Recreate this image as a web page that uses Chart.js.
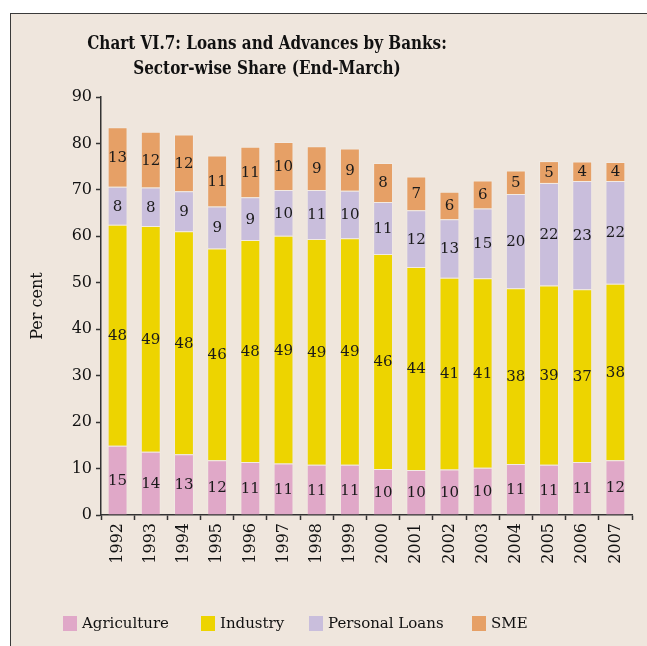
<!DOCTYPE html>
<html>
<head>
<meta charset="utf-8">
<script src="https://cdn.jsdelivr.net/npm/chart.js@4.4.0/dist/chart.umd.min.js"></script>
<style>
  html, body { margin: 0; padding: 0; background: #fff; }
  body { width: 647px; height: 646px; position: relative; overflow: hidden; }
  #frame {
    position: absolute; left: 10px; top: 13px; width: 660px; height: 660px;
    background: #EFE6DD; border-left: 1.5px solid #3a3a3a; border-top: 1.5px solid #3a3a3a;
  }
  #chart { position: absolute; left: 0; top: 0; }
  #title {
    position: absolute; left: 0; width: 534px; top: 30px; text-align: center;
    font-family: "DejaVu Serif", serif; font-weight: bold; font-size: 19px; line-height: 25px;
    color: #111; transform: scaleX(0.8); transform-origin: 267px 0;
  }
  .leg { position: absolute; top: 613px; height: 20px; font-family: "DejaVu Serif", serif;
    font-size: 15px; line-height: 20px; color: #111; white-space: nowrap; }
  .leg span { display: inline-block; width: 14px; height: 15px; vertical-align: -3px; margin-right: 5px; }
</style>
</head>
<body>
<div id="frame"></div>
<canvas id="chart" width="647" height="646"></canvas>
<div id="title">Chart VI.7: Loans and Advances by Banks:<br>Sector-wise Share (End-March)</div>
<div class="leg" style="left:63px"><span style="background:#E0A8C8"></span>Agriculture</div>
<div class="leg" style="left:201px"><span style="background:#EDD400"></span>Industry</div>
<div class="leg" style="left:309px"><span style="background:#C9BEDC"></span>Personal Loans</div>
<div class="leg" style="left:472px"><span style="background:#E6A066"></span>SME</div>
<script>
const years = ['1992', '1993', '1994', '1995', '1996', '1997', '1998', '1999',
               '2000', '2001', '2002', '2003', '2004', '2005', '2006', '2007'];
const agriculture = [14.9, 13.6, 13.1, 11.8, 11.4, 11.1, 10.8, 10.8, 9.9, 9.7, 9.8, 10.2, 11.0, 10.8, 11.4, 11.8];
const industry = [47.6, 48.6, 48.0, 45.6, 47.8, 49.0, 48.6, 48.8, 46.3, 43.7, 41.3, 40.8, 37.8, 38.6, 37.2, 38.0];
const personalLoans = [8.2, 8.3, 8.6, 9.0, 9.2, 9.9, 10.6, 10.2, 11.2, 12.2, 12.6, 15.0, 20.3, 22.1, 23.3, 22.1];
const sme = [12.8, 12.0, 12.2, 11.0, 10.9, 10.3, 9.4, 9.1, 8.4, 7.3, 5.9, 6.0, 5.1, 4.7, 4.2, 4.1];
const yTicks = [0, 10, 20, 30, 40, 50, 60, 70, 80, 90];

const font = 'DejaVu Serif';

// writes the rounded share in the middle of every segment
const segmentLabels = {
    id: 'segmentLabels',
    afterDatasetsDraw(chart) {
        const ctx = chart.ctx;
        ctx.save();
        ctx.font = '15px "' + font + '"';
        ctx.fillStyle = '#1a1a1a';
        ctx.textAlign = 'center';
        ctx.textBaseline = 'middle';
        chart.data.datasets.forEach((ds, i) => {
            chart.getDatasetMeta(i).data.forEach((bar, j) => {
                const y = (bar.y + bar.base) / 2;
                ctx.fillText(String(Math.round(ds.data[j])), bar.x, y + 1);
            });
        });
        ctx.restore();
    }
};

function makeSet(label, data, color) {
    return {
        label: label,
        data: data,
        backgroundColor: color,
        borderColor: 'rgba(255,255,255,0.18)',
        borderWidth: 1,
        barPercentage: 0.6,
        categoryPercentage: 1
    };
}

new Chart(document.getElementById('chart'), {
    type: 'bar',
    data: {
        labels: years,
        datasets: [
            makeSet('Agriculture', agriculture, '#E0A8C8'),
            makeSet('Industry', industry, '#EDD400'),
            makeSet('Personal Loans', personalLoans, '#C9BEDC'),
            makeSet('SME', sme, '#E6A066')
        ]
    },
    options: {
        responsive: false,
        animation: false,
        layout: { padding: { left: 0, right: 15, top: 97, bottom: 71 } },
        plugins: {
            legend: { display: false },
            title: { display: false },
            tooltip: { enabled: false }
        },
        scales: {
            x: {
                stacked: true,
                afterFit: (s) => { s.height = 60; },
                border: { color: '#333', width: 1.5 },
                grid: { offset: true, drawOnChartArea: false, tickLength: 5, tickColor: '#333', tickWidth: 1.5 },
                ticks: { color: '#111', font: { family: font, size: 16 }, minRotation: 90, maxRotation: 90, padding: 3 }
            },
            y: {
                stacked: true,
                min: 0,
                max: 90,
                afterFit: (s) => { s.width = 101; },
                afterBuildTicks: (s) => { s.ticks = yTicks.map(v => ({ value: v })); },
                border: { color: '#333', width: 1.5 },
                grid: { drawOnChartArea: false, tickLength: 5, tickColor: '#333', tickWidth: 1.5 },
                ticks: { color: '#111', font: { family: font, size: 16 }, padding: 4 },
                title: {
                    display: true, text: 'Per cent', color: '#111',
                    font: { family: font, size: 16 }, padding: { top: 28, bottom: 0 }
                }
            }
        }
    },
    plugins: [segmentLabels]
});
</script>
</body>
</html>
